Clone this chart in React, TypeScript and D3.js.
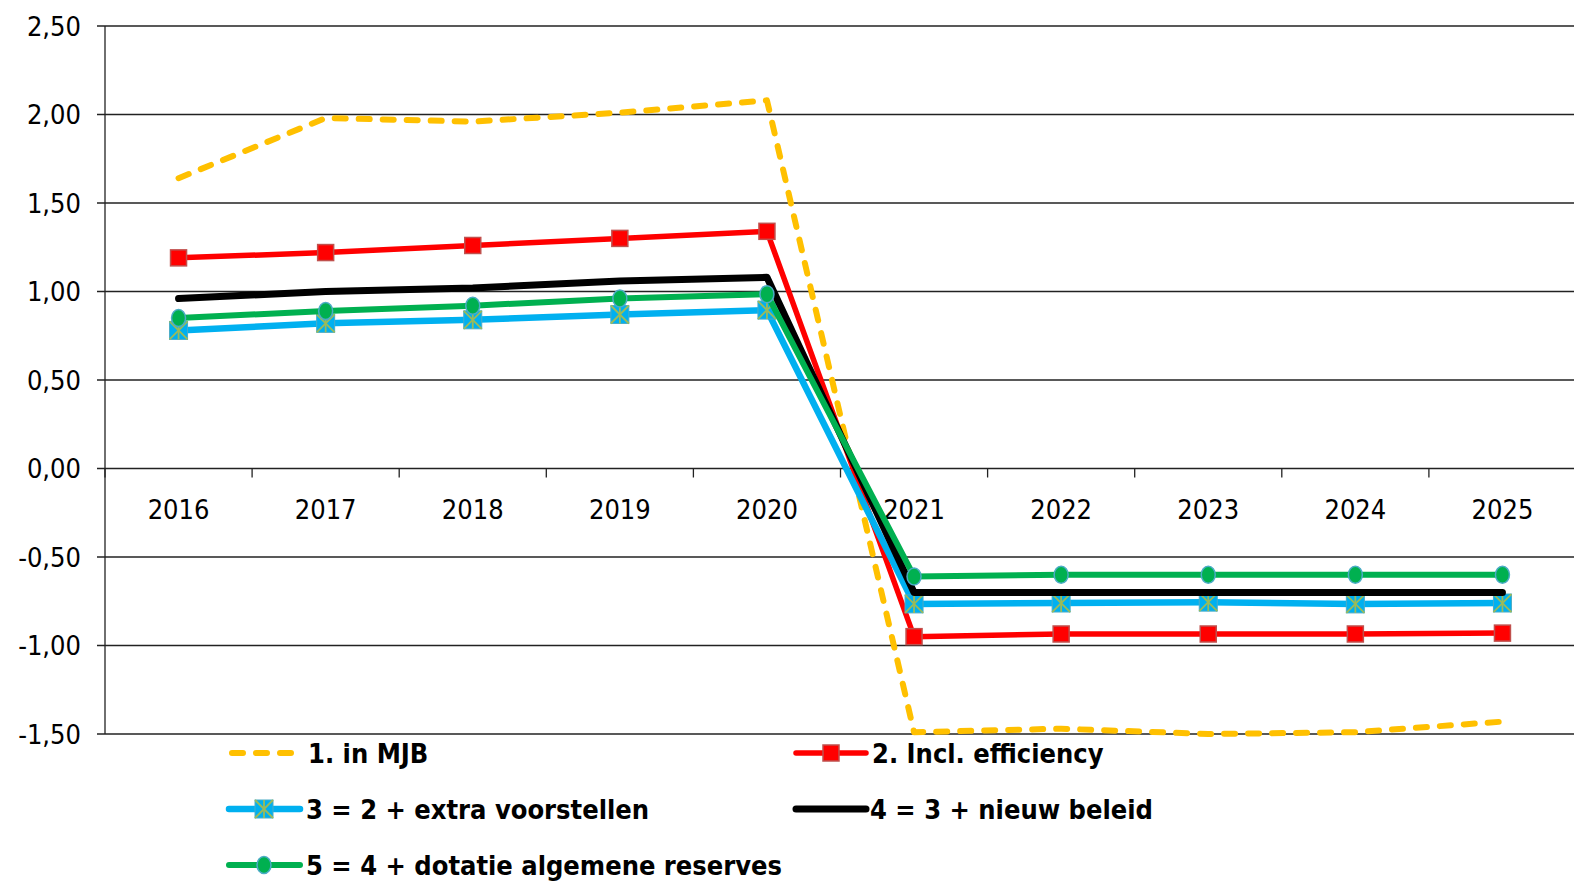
import React from "react";
import * as d3 from "d3";

const years = ["2016","2017","2018","2019","2020","2021","2022","2023","2024","2025"];
const yTicks = [2.5, 2.0, 1.5, 1.0, 0.5, 0.0, -0.5, -1.0, -1.5];

const mjb = [1.64, 1.98, 1.96, 2.01, 2.08, -1.49, -1.47, -1.50, -1.49, -1.43];
const efficiency = [1.19, 1.22, 1.26, 1.30, 1.34, -0.95, -0.935, -0.935, -0.935, -0.93];
const extraVoorstellen = [0.78, 0.82, 0.84, 0.87, 0.895, -0.765, -0.76, -0.755, -0.765, -0.76];
const nieuwBeleid = [0.96, 1.00, 1.02, 1.06, 1.08, -0.70, -0.70, -0.70, -0.70, -0.70];
const dotatie = [0.85, 0.89, 0.92, 0.96, 0.985, -0.61, -0.60, -0.60, -0.60, -0.60];

const seriesNames = [
  "1. in MJB",
  "2. Incl. efficiency",
  "3 = 2 + extra voorstellen",
  "4 = 3 + nieuw beleid",
  "5 = 4 + dotatie algemene reserves",
];

const W = 1574, H = 886;
const left = 105, right = 1576, top = 26, bottom = 734;
const FONT = "'DejaVu Sans Condensed', 'DejaVu Sans', sans-serif";

const x = d3.scaleBand<string>().domain(years).range([left, right]);
const y = d3.scaleLinear().domain([-1.5, 2.5]).range([bottom, top]);
const cx = (i: number) => (x(years[i]) as number) + x.bandwidth() / 2;

const lineGen = d3.line<number>().x((_, i) => cx(i)).y((v) => y(v));
const fmt = (t: number) => d3.format(".2f")(t).replace(".", ",").replace("\u2212", "-");

function SquareMarker({ px, py, s, fill, stroke }: any) {
  return <rect x={px - s / 2} y={py - s / 2} width={s} height={s} fill={fill} stroke={stroke} strokeWidth={1.5} />;
}
function StarSquare({ px, py }: any) {
  const s = 18;
  const h = s / 2;
  return (
    <g>
      <rect x={px - h} y={py - h} width={s} height={s} fill="#00b0f0" stroke="#4bacc6" strokeWidth={1} />
      <line x1={px - h} y1={py - h} x2={px + h} y2={py + h} stroke="#9bbb59" strokeWidth={1.8} />
      <line x1={px + h} y1={py - h} x2={px - h} y2={py + h} stroke="#9bbb59" strokeWidth={1.8} />
      <line x1={px} y1={py - h} x2={px} y2={py + h} stroke="#9bbb59" strokeWidth={1.8} />
    </g>
  );
}
function Ellipse({ px, py }: any) {
  return <ellipse cx={px} cy={py} rx={7} ry={8.5} fill="#00b050" stroke="#4bacc6" strokeWidth={1.5} />;
}

export default function App() {
  const legendRows = [753, 809, 865];
  return (
    <svg width={W} height={H} style={{ position: "absolute", left: 0, top: 0, background: "#fff" }}>
      {yTicks.map((t) => (
        <line key={t} x1={97} x2={W} y1={y(t)} y2={y(t)} stroke="#222" strokeWidth={1.3} />
      ))}
      <line x1={left} x2={left} y1={top} y2={bottom} stroke="#222" strokeWidth={1.3} />
      {years.map((yr) => (
        <line key={yr} x1={x(yr) as number} x2={x(yr) as number} y1={y(0)} y2={y(0) + 9} stroke="#222" strokeWidth={1.3} />
      ))}
      {yTicks.map((t) => (
        <text key={t} x={81} y={y(t)} dy="0.36em" textAnchor="end" fontFamily={FONT} fontSize={27} fill="#000">
          {fmt(t)}
        </text>
      ))}
      {years.map((yr, i) => (
        <text key={yr} x={cx(i)} y={509} dy="0.36em" textAnchor="middle" fontFamily={FONT} fontSize={27} fill="#000">
          {yr}
        </text>
      ))}
      <path d={lineGen(mjb) || ""} fill="none" stroke="#ffc000" strokeWidth={6} strokeDasharray="11 13" strokeLinecap="round" strokeLinejoin="round" />
      <path d={lineGen(efficiency) || ""} fill="none" stroke="#ff0000" strokeWidth={5.5} strokeLinejoin="round" />
      {efficiency.map((v, i) => (
        <SquareMarker key={i} px={cx(i)} py={y(v)} s={16} fill="#ff0000" stroke="#c0504d" />
      ))}
      <path d={lineGen(extraVoorstellen) || ""} fill="none" stroke="#00b0f0" strokeWidth={6.5} strokeLinejoin="round" />
      {extraVoorstellen.map((v, i) => (
        <StarSquare key={i} px={cx(i)} py={y(v)} />
      ))}
      <path d={lineGen(nieuwBeleid) || ""} fill="none" stroke="#000" strokeWidth={7} strokeLinejoin="round" strokeLinecap="round" />
      <path d={lineGen(dotatie) || ""} fill="none" stroke="#00b050" strokeWidth={6} strokeLinejoin="round" />
      {dotatie.map((v, i) => (
        <Ellipse key={i} px={cx(i)} py={y(v)} />
      ))}
      <g fontFamily={FONT} fontWeight="bold" fontSize={27} fill="#000">
        <line x1={232} x2={292} y1={legendRows[0]} y2={legendRows[0]} stroke="#ffc000" strokeWidth={6} strokeDasharray="11 13" strokeLinecap="round" />
        <text x={308} y={legendRows[0]} dy="0.36em">{seriesNames[0]}</text>
        <line x1={796} x2={866} y1={legendRows[0]} y2={legendRows[0]} stroke="#ff0000" strokeWidth={5.5} strokeLinecap="round" />
        <SquareMarker px={831} py={legendRows[0]} s={16} fill="#ff0000" stroke="#c0504d" />
        <text x={872} y={legendRows[0]} dy="0.36em">{seriesNames[1]}</text>
        <line x1={229} x2={300} y1={legendRows[1]} y2={legendRows[1]} stroke="#00b0f0" strokeWidth={6.5} strokeLinecap="round" />
        <StarSquare px={264} py={legendRows[1]} />
        <text x={306} y={legendRows[1]} dy="0.36em">{seriesNames[2]}</text>
        <line x1={796} x2={866} y1={legendRows[1]} y2={legendRows[1]} stroke="#000" strokeWidth={7} strokeLinecap="round" />
        <text x={870} y={legendRows[1]} dy="0.36em">{seriesNames[3]}</text>
        <line x1={229} x2={300} y1={legendRows[2]} y2={legendRows[2]} stroke="#00b050" strokeWidth={6} strokeLinecap="round" />
        <Ellipse px={264} py={legendRows[2]} />
        <text x={306} y={legendRows[2]} dy="0.36em">{seriesNames[4]}</text>
      </g>
    </svg>
  );
}
